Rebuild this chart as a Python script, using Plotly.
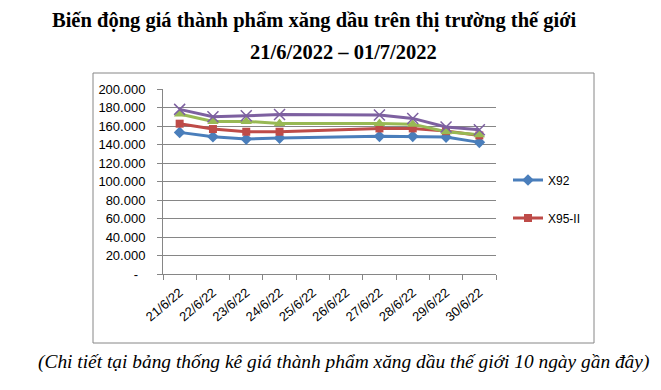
import plotly.graph_objects as go

dates = ["21/6/22", "22/6/22", "23/6/22", "24/6/22", "25/6/22",
         "26/6/22", "27/6/22", "28/6/22", "29/6/22", "30/6/22"]
x92 = [153.1, 148.4, 145.9, 147.0, None, None, 148.8, 148.8, 148.0, 142.3]
x95 = [162.5, 156.7, 153.8, 153.8, None, None, 157.4, 157.4, 154.5, 149.8]
dau_hoa = [173.0, 165.0, 165.0, 162.8, None, None, 162.8, 162.0, 153.8, 150.6]
diesel = [178.0, 170.0, 171.0, 172.5, None, None, 171.9, 168.2, 158.9, 156.0]
ytick_vals = [0, 20, 40, 60, 80, 100, 120, 140, 160, 180, 200]
ytick_text = ["-\u00a0\u00a0", "20.000", "40.000", "60.000", "80.000", "100.000",
              "120.000", "140.000", "160.000", "180.000", "200.000"]

OFF = 8  # page body margin
L, R, T, B = 163 - OFF, 496 - OFF, 89 - OFF, 274 - OFF
W, H = 661, 390

def px(x):
    return (x - OFF - L) / (R - L)

def py(y):
    return (B - (y - OFF)) / (B - T)

fig = go.Figure()
fig.add_trace(go.Scatter(x=dates, y=x92, name="X92", mode="lines+markers",
                         connectgaps=True, legend="legend",
                         line=dict(color="#4A7EBB", width=3),
                         marker=dict(symbol="diamond", size=9, color="#4A7EBB")))
fig.add_trace(go.Scatter(x=dates, y=x95, name="X95-II", mode="lines+markers",
                         connectgaps=True, legend="legend2",
                         line=dict(color="#BE4B48", width=3),
                         marker=dict(symbol="square", size=8, color="#BE4B48")))
fig.add_trace(go.Scatter(x=dates, y=dau_hoa, name="Dầu hỏa", mode="lines+markers",
                         connectgaps=True, showlegend=False,
                         line=dict(color="#98B954", width=3),
                         marker=dict(symbol="triangle-up", size=10, color="#98B954")))
fig.add_trace(go.Scatter(x=dates, y=diesel, name="Dầu diesel", mode="lines+markers",
                         connectgaps=True, showlegend=False,
                         line=dict(color="#7D60A0", width=3),
                         marker=dict(symbol="x-thin-open", size=11,
                                     line=dict(color="#7D60A0", width=1.5))))

serif = "Liberation Serif, Times New Roman, serif"
fig.update_layout(
    width=W, height=H,
    margin=dict(l=L, r=W - R, t=T, b=H - B),
    paper_bgcolor="white", plot_bgcolor="white",
    font=dict(family="Liberation Sans, Arial, sans-serif", color="black"),
    xaxis=dict(type="category", categoryorder="array", categoryarray=dates,
               range=[-0.5, 9.5], tickangle=-40, tickson="boundaries",
               ticks="outside", ticklen=5, tickcolor="#868686",
               ticklabelstandoff=5,
               showline=True, linecolor="#868686", linewidth=1,
               showgrid=False, tickfont=dict(size=13)),
    yaxis=dict(range=[0, 200], tickvals=ytick_vals, ticktext=ytick_text,
               ticks="outside", ticklen=5, tickcolor="#868686",
               ticklabelstandoff=9,
               showline=True, linecolor="#868686", linewidth=1,
               showgrid=True, gridcolor="#868686", gridwidth=1,
               zeroline=False, tickfont=dict(size=13)),
    legend=dict(x=px(508), y=py(180), xanchor="left", yanchor="middle",
                bgcolor="rgba(0,0,0,0)", font=dict(size=12)),
    legend2=dict(x=px(508), y=py(218), xanchor="left", yanchor="middle",
                 bgcolor="rgba(0,0,0,0)", font=dict(size=12)),
    shapes=[dict(type="rect", xref="paper", yref="paper",
                 x0=px(93), x1=px(594), y0=py(343), y1=py(73),
                 line=dict(color="#868686", width=1))],
    annotations=[
        dict(text="<b>Biến động giá thành phẩm xăng dầu trên thị trường thế giới</b>",
             xref="paper", yref="paper", x=px(314.5), y=py(20),
             xanchor="center", yanchor="middle", showarrow=False,
             font=dict(family=serif, size=20.5)),
        dict(text="<b>21/6/2022 – 01/7/2022</b>",
             xref="paper", yref="paper", x=px(343.5), y=py(52),
             xanchor="center", yanchor="middle", showarrow=False,
             font=dict(family=serif, size=20.5)),
        dict(text="<i>(Chi tiết tại bảng thống kê giá thành phẩm xăng dầu thế giới 10 ngày gần đây)</i>",
             xref="paper", yref="paper", x=px(343.5), y=py(362),
             xanchor="center", yanchor="middle", showarrow=False,
             font=dict(family=serif, size=19.4)),
    ],
)

fig.write_html("out.html")
